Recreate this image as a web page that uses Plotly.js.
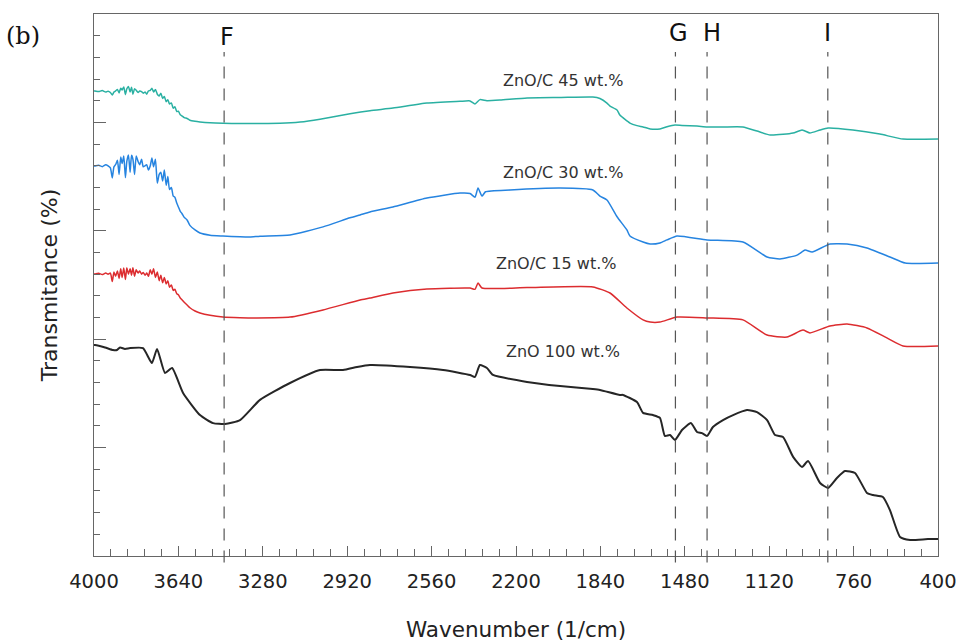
<!DOCTYPE html>
<html>
<head>
<meta charset="utf-8">
<script src="https://cdn.plot.ly/plotly-3.0.1.min.js"></script>
<style>html,body{margin:0;padding:0;background:#fff;}#chart{width:960px;height:642px;}</style>
</head>
<body>
<div id="chart"></div>
<script>
// Wavenumber (1/cm) and transmittance (arbitrary offset units, 0-25 scale)
const wn45 = [4000,3996,3980,3965,3950,3940,3930,3922,3915,3908,3900,3893,3886,3880,3873,3866,3860,3853,3846,3840,3834,3827,3820,3812,3805,3797,3790,3782,3775,3768,3760,3753,3746,3738,3730,3722,3715,3707,3700,3692,3685,3678,3670,3662,3655,3647,3640,3632,3625,3615,3603,3591,3569,3548,3505,3450,3377,3292,3207,3121,3036,2908,2823,2725,2580,2439,2396,2375,2354,2324,2268,2153,2012,1872,1842,1812,1799,1769,1757,1714,1684,1658,1628,1586,1556,1522,1492,1428,1385,1317,1232,1172,1116,1061,1018,980,967,946,903,869,763,648,549,400];
const t45 = [21.45,21.45,21.42,21.47,21.40,21.44,21.38,21.26,21.40,21.45,21.52,21.36,21.58,21.50,21.63,21.28,21.55,21.66,21.40,21.62,21.30,21.55,21.48,21.38,21.45,21.42,21.35,21.40,21.30,21.45,21.48,21.58,21.40,21.52,21.30,21.22,21.35,21.10,21.20,20.95,21.05,20.85,20.90,20.65,20.72,20.50,20.52,20.35,20.30,20.22,20.18,20.10,20.05,20.02,19.98,19.96,19.95,19.95,19.96,20.02,20.15,20.40,20.54,20.66,20.89,20.97,20.99,20.85,21.05,21.00,21.03,21.13,21.15,21.17,21.10,20.89,20.75,20.57,20.34,19.97,19.85,19.79,19.70,19.70,19.80,19.88,19.86,19.83,19.79,19.79,19.79,19.60,19.42,19.45,19.51,19.65,19.60,19.51,19.65,19.74,19.65,19.46,19.23,19.23];

const wn30 = [4000,3996,3980,3965,3950,3940,3930,3922,3915,3908,3900,3893,3886,3880,3873,3866,3860,3853,3846,3840,3834,3827,3820,3812,3805,3797,3790,3782,3775,3768,3760,3753,3746,3738,3730,3722,3715,3707,3700,3692,3685,3678,3670,3662,3655,3647,3640,3632,3625,3615,3603,3591,3569,3548,3505,3450,3377,3335,3292,3164,3023,2908,2865,2823,2725,2580,2439,2396,2375,2362,2345,2330,2226,2012,1872,1842,1812,1769,1727,1714,1658,1628,1586,1556,1513,1385,1232,1129,1074,1001,967,937,861,788,703,605,540,400];
const t30 = [17.99,17.99,18.02,17.96,18.05,18.00,17.90,17.44,17.95,18.05,18.25,17.60,18.40,18.10,18.45,17.45,18.20,18.50,17.70,18.48,18.30,17.60,18.45,18.20,18.05,18.30,17.95,18.00,18.05,17.80,18.00,18.36,17.95,18.30,17.20,17.60,17.70,17.30,17.80,17.10,17.50,16.90,17.00,16.60,16.55,16.28,16.10,15.90,15.80,15.62,15.50,15.25,15.04,14.90,14.80,14.76,14.72,14.71,14.75,14.81,15.18,15.60,15.73,15.87,16.10,16.51,16.74,16.72,16.55,16.97,16.60,16.80,16.88,16.97,16.88,16.60,16.42,15.65,15.04,14.76,14.48,14.39,14.44,14.58,14.76,14.58,14.48,13.79,13.70,13.88,14.11,14.02,14.39,14.39,14.21,13.79,13.51,13.51];

const wn15 = [4000,3996,3980,3965,3950,3940,3930,3922,3915,3908,3900,3893,3886,3880,3873,3866,3860,3853,3846,3840,3834,3827,3820,3812,3805,3797,3790,3782,3775,3768,3760,3753,3746,3738,3730,3722,3715,3707,3700,3692,3685,3678,3670,3662,3655,3647,3640,3632,3625,3615,3603,3591,3569,3548,3505,3450,3377,3305,3164,3023,2865,2823,2725,2580,2396,2375,2362,2345,2153,1872,1799,1727,1658,1628,1586,1513,1385,1232,1129,1044,976,946,861,788,703,618,549,400];
const t15 = [13.01,13.01,13.04,12.98,13.05,13.00,13.05,12.66,13.10,12.90,13.15,12.80,13.25,12.85,13.28,12.75,13.30,13.00,13.25,12.95,13.30,12.90,13.20,13.05,13.15,13.00,13.08,12.95,13.05,12.90,13.20,13.00,13.25,12.85,13.10,12.70,12.95,12.60,12.85,12.55,12.70,12.40,12.50,12.25,12.30,12.10,12.05,11.90,11.82,11.70,11.58,11.45,11.30,11.21,11.10,11.02,10.99,10.98,11.02,11.35,11.81,11.90,12.13,12.32,12.36,12.30,12.59,12.36,12.38,12.41,12.13,11.44,10.89,10.79,10.79,11.02,10.98,10.89,10.19,10.10,10.42,10.29,10.61,10.70,10.52,10.06,9.69,9.69];

const wn100 = [4000,3996,3953,3919,3902,3889,3868,3846,3791,3753,3731,3697,3667,3620,3548,3492,3441,3377,3292,3164,3036,2938,2878,2823,2652,2511,2396,2375,2354,2324,2298,2153,2012,1872,1842,1757,1744,1684,1658,1616,1586,1565,1543,1522,1492,1454,1428,1407,1385,1360,1317,1274,1215,1172,1129,1095,1061,1018,980,954,903,869,831,797,754,703,677,635,605,562,519,443,400];
const t100 = [9.73,9.73,9.62,9.50,9.50,9.62,9.55,9.59,9.59,8.90,9.55,8.44,8.67,7.52,6.50,6.13,6.09,6.27,7.20,7.98,8.58,8.58,8.72,8.81,8.72,8.58,8.35,8.26,8.81,8.67,8.35,8.03,7.84,7.70,7.66,7.43,7.43,7.10,6.60,6.50,6.37,5.54,5.58,5.35,5.81,6.13,5.72,5.67,5.54,5.95,6.27,6.50,6.73,6.64,6.27,5.58,5.49,4.57,4.11,4.38,3.37,3.14,3.60,3.92,3.83,2.91,2.81,2.72,2.12,0.88,0.74,0.78,0.78];

const seriesNames = ["ZnO/C 45 wt.%", "ZnO/C 30 wt.%", "ZnO/C 15 wt.%", "ZnO 100 wt.%"];
const labelWn = [2000, 2000, 2029, 2000];
const labelT = [21.93, 17.69, 13.49, 9.41];

const peakNames = ["F", "G", "H", "I"];
const peakWn = [3445, 1520, 1385, 870];

const xTicks = [4000,3640,3280,2920,2560,2200,1840,1480,1120,760,400];

const colors = ["#2ab0a2", "#2684e0", "#dc2c2f", "#262626"];
const widths = [1.5, 1.5, 1.5, 2];

const xs = [wn45, wn30, wn15, wn100];
const ys = [t45, t30, t15, t100];

const traces = xs.map((x, i) => ({
  x: x, y: ys[i], type: "scatter", mode: "lines", name: seriesNames[i],
  line: {color: colors[i], width: widths[i], shape: "spline", smoothing: 0.5}, hoverinfo: "skip"
}));

const FONT = "DejaVu Sans, Arial, sans-serif";

const shapes = peakWn.map(w => ({
  type: "line", xref: "x", yref: "paper", x0: w, x1: w, y0: -0.012, y1: 0.93,
  line: {color: "#555", width: 1.2, dash: "12px,10px"}
}));

const annotations = [];
peakNames.forEach((p, i) => annotations.push({
  text: p, xref: "x", yref: "paper", x: peakWn[i], y: i === 0 ? 0.958 : 0.965,
  xshift: [3, 3, 5, 0][i], showarrow: false, xanchor: "center", yanchor: "middle",
  font: {family: FONT, size: 24, color: "#111"}
}));
seriesNames.forEach((s, i) => annotations.push({
  text: s, xref: "x", yref: "y", x: labelWn[i], y: labelT[i], showarrow: false,
  xanchor: "center", yanchor: "middle", font: {family: FONT, size: 16, color: "#333"}
}));
annotations.push({
  text: "(b)", xref: "paper", yref: "paper", x: -0.084, y: 0.959, showarrow: false,
  xanchor: "center", yanchor: "middle", font: {family: "DejaVu Serif, serif", size: 24, color: "#111"}
});

const layout = {
  width: 960, height: 642,
  margin: {l: 94, r: 22, t: 14, b: 86},
  paper_bgcolor: "#fff", plot_bgcolor: "#fff",
  showlegend: false,
  xaxis: {
    range: [4000, 400], tickvals: xTicks, ticktext: xTicks.map(String),
    ticks: "inside", ticklen: 10, tickwidth: 1, tickcolor: "#666",
    showline: true, linecolor: "#666", linewidth: 1, mirror: true,
    showgrid: false, zeroline: false,
    tickfont: {family: FONT, size: 19.5, color: "#222"},
    ticklabelstandoff: 8,
    minor: {tick0: 400, dtick: 72, ticks: "inside", ticklen: 7, tickwidth: 1, tickcolor: "#666", showgrid: false},
    title: {text: "Wavenumber (1/cm)", font: {family: FONT, size: 21.5, color: "#222"}, standoff: 32}
  },
  yaxis: {
    range: [0, 25], tick0: 0, dtick: 5,
    ticks: "inside", ticklen: 12, tickwidth: 1, tickcolor: "#666",
    showticklabels: false,
    showline: true, linecolor: "#666", linewidth: 1, mirror: true,
    showgrid: false, zeroline: false,
    minor: {tick0: 0, dtick: 1, ticks: "inside", ticklen: 6, tickwidth: 1, tickcolor: "#666", showgrid: false},
    title: {text: "Transmitance (%)", font: {family: FONT, size: 22, color: "#222"}, standoff: 29}
  },
  shapes: shapes,
  annotations: annotations
};

Plotly.newPlot("chart", traces, layout, {displayModeBar: false, staticPlot: true});
</script>
</body>
</html>
